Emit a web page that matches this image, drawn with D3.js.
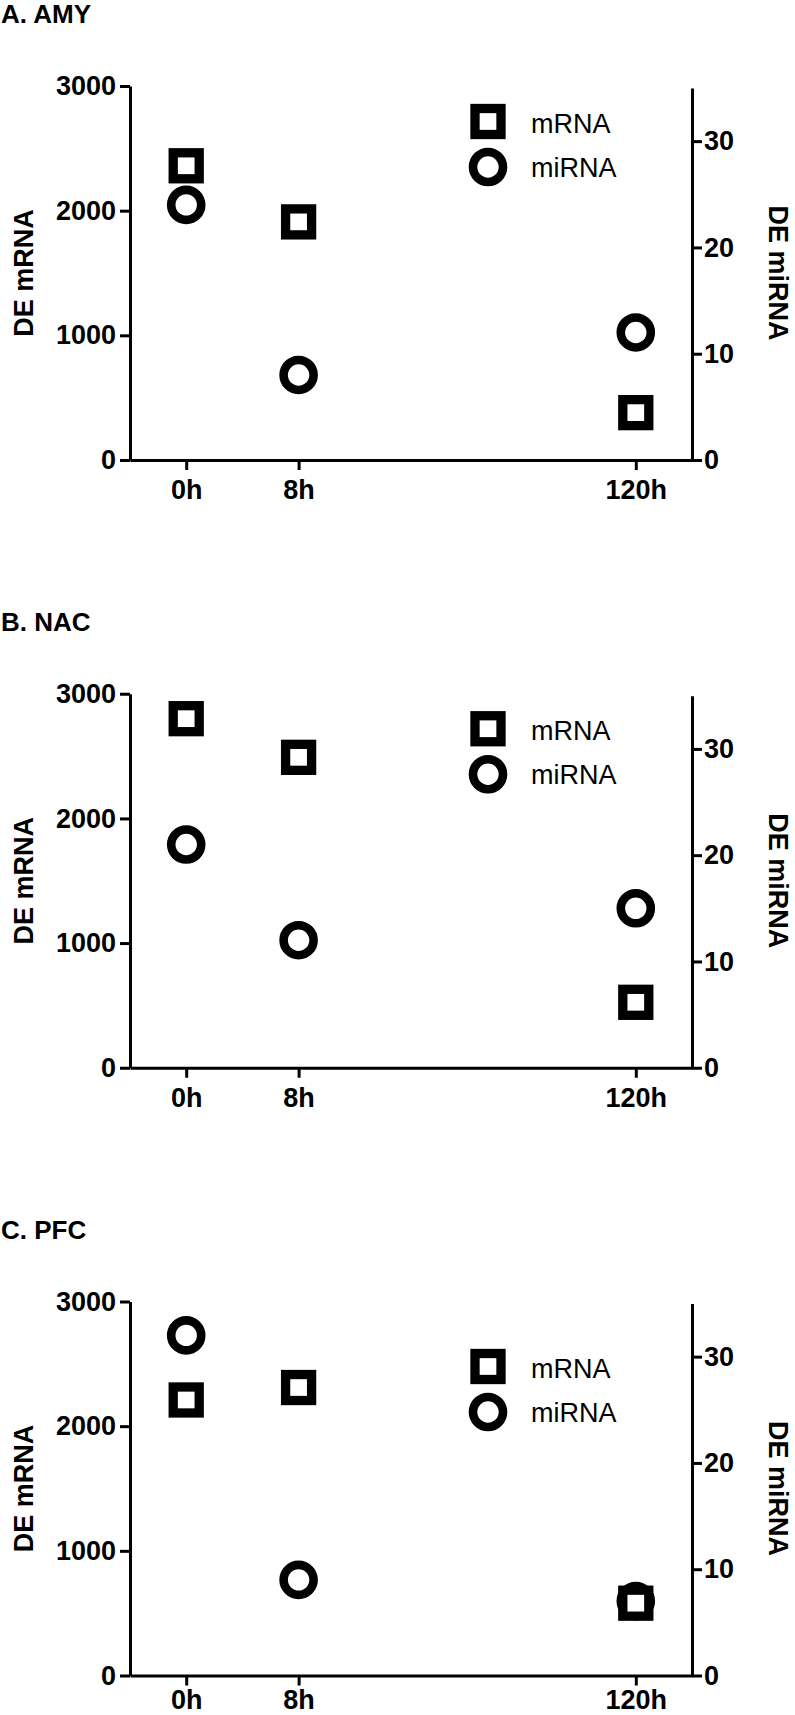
<!DOCTYPE html>
<html>
<head>
<meta charset="utf-8">
<script src="https://cdn.jsdelivr.net/npm/d3@7/dist/d3.min.js"></script>
<style>
  html, body { margin: 0; padding: 0; background: #fff; }
  svg { display: block; }
  text { font-family: "Liberation Sans", Arial, Helvetica, sans-serif; fill: #000; }
</style>
</head>
<body>
<svg id="chart" width="795" height="1715"></svg>
<script>
// ---------- data ----------
const panelTitles = ["A. AMY", "B. NAC", "C. PFC"];
const timeLabels  = ["0h", "8h", "120h"];
const timeSlots   = [0, 1, 4];           // category slot on the x axis
const mrnaAMY  = [2360, 1910, 380];
const mirnaAMY = [24, 8, 12];
const mrnaNAC  = [2800, 2490, 525];
const mirnaNAC = [21, 12, 15];
const mrnaPFC  = [2210, 2310, 580];
const mirnaPFC = [32, 9, 7];
const leftTicks  = [0, 1000, 2000, 3000];
const rightTicks = [0, 10, 20, 30];
const seriesNames = ["mRNA", "miRNA"];

const mrnaSets  = [mrnaAMY, mrnaNAC, mrnaPFC];
const mirnaSets = [mirnaAMY, mirnaNAC, mirnaPFC];

// ---------- layout ----------
const svg = d3.select("#chart");
const panelStep = 607.75;
const firstBottom = 460;
const xLeft = 130, xRight = 692;
const legendTopOffsets = [35.5, 35, 65];
const xLabelPadding = [10, 10, 4.5];

const x = d3.scaleLinear().domain([-0.5, 4.5]).range([xLeft, xRight]);

panelTitles.forEach((title, i) => {
  const bottom = firstBottom + i * panelStep;
  const yL = d3.scaleLinear().domain([0, 3000]).range([bottom, bottom - 374]);
  const yR = d3.scaleLinear().domain([0, 35]).range([bottom, bottom - 372]);
  const top = bottom - 374;
  const g = svg.append("g");

  // title
  g.append("text")
    .attr("x", 1).attr("y", 23 + i * panelStep)
    .style("font-size", "26px").style("font-weight", "bold")
    .text(title);

  // axes
  const styleAxis = sel => {
    sel.selectAll("path.domain").attr("stroke", "#000").attr("stroke-width", 3);
    sel.selectAll(".tick line").attr("stroke", "#000").attr("stroke-width", 3);
    sel.selectAll(".tick text")
      .style("font-family", '"Liberation Sans", Arial, sans-serif')
      .style("font-size", "27px").style("font-weight", "bold").attr("fill", "#000");
  };

  g.append("g").attr("transform", `translate(${xLeft},0)`)
    .call(d3.axisLeft(yL).tickValues(leftTicks).tickFormat(d3.format("d"))
      .tickSize(10).tickSizeOuter(0).tickPadding(4))
    .call(styleAxis);

  g.append("g").attr("transform", `translate(${xRight},0)`)
    .call(d3.axisRight(yR).tickValues(rightTicks).tickFormat(d3.format("d"))
      .tickSize(10).tickSizeOuter(0).tickPadding(2))
    .call(styleAxis);

  g.append("g").attr("transform", `translate(0,${bottom})`)
    .call(d3.axisBottom(x).tickValues(timeSlots)
      .tickFormat((d, k) => timeLabels[k])
      .tickSize(10).tickSizeOuter(0).tickPadding(xLabelPadding[i]))
    .call(styleAxis);

  // axis titles
  const cy = (top + bottom) / 2;
  g.append("text")
    .attr("transform", `translate(33,${cy}) rotate(-90)`)
    .attr("text-anchor", "middle")
    .style("font-size", "27px").style("font-weight", "bold")
    .text("DE mRNA");
  g.append("text")
    .attr("transform", `translate(769,${cy}) rotate(90)`)
    .attr("text-anchor", "middle")
    .style("font-size", "27px").style("font-weight", "bold")
    .text("DE miRNA");

  // markers: circles (miRNA) first, squares (mRNA) on top
  const pts = timeSlots.map((s, k) => ({ s, mrna: mrnaSets[i][k], mirna: mirnaSets[i][k] }));
  g.selectAll("circle.mi").data(pts).join("circle")
    .attr("class", "mi")
    .attr("cx", d => x(d.s)).attr("cy", d => yR(d.mirna))
    .attr("r", 15)
    .attr("fill", "#fff").attr("stroke", "#000").attr("stroke-width", 8.6);
  const side = 26;
  g.selectAll("rect.m").data(pts).join("rect")
    .attr("class", "m")
    .attr("x", d => x(d.s) - side / 2).attr("y", d => yL(d.mrna) - side / 2)
    .attr("width", side).attr("height", side)
    .attr("fill", "#fff").attr("stroke", "#000").attr("stroke-width", 9.3);

  // legend
  const ly = top + legendTopOffsets[i];
  const lx = 488;
  g.append("rect")
    .attr("x", lx - side / 2).attr("y", ly - side / 2)
    .attr("width", side).attr("height", side)
    .attr("fill", "#fff").attr("stroke", "#000").attr("stroke-width", 9.3);
  g.append("text").attr("x", 531).attr("y", ly + 11.5)
    .style("font-size", "27px").text(seriesNames[0]);
  g.append("circle")
    .attr("cx", lx).attr("cy", ly + 45.5).attr("r", 15)
    .attr("fill", "#fff").attr("stroke", "#000").attr("stroke-width", 8.6);
  g.append("text").attr("x", 531).attr("y", ly + 55.5)
    .style("font-size", "27px").text(seriesNames[1]);
});
</script>
</body>
</html>
